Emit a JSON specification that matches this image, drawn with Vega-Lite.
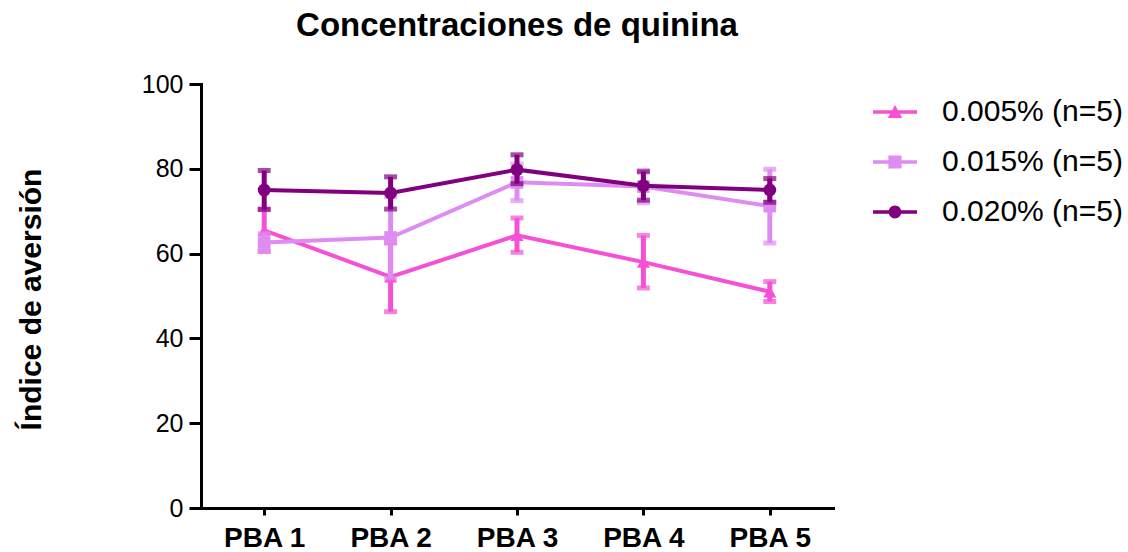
{
  "$schema": "https://vega.github.io/schema/vega-lite/v6.json",
  "autosize": "none",
  "width": 632,
  "height": 424,
  "padding": {"left": 201, "top": 84, "right": 295, "bottom": 44},
  "background": "white",
  "config": {
    "view": {"stroke": null},
    "font": "Liberation Sans",
    "range": {"category": ["#F550D6", "#DE8CF2", "#80007F"]},
    "axis": {"labelColor": "black", "titleColor": "black", "domainColor": "black", "tickColor": "black", "labelFont": "Liberation Sans", "titleFont": "Liberation Sans"}
  },
  "title": {
    "text": "Concentraciones de quinina",
    "font": "Liberation Sans",
    "fontSize": 33,
    "fontWeight": "bold",
    "color": "black",
    "anchor": "middle",
    "offset": 29
  },
  "data": {
    "values": [
      {"serie": "0.005% (n=5)", "prueba": "PBA 1", "media": 65.5, "lo": 60.5, "hi": 70.5},
      {"serie": "0.005% (n=5)", "prueba": "PBA 2", "media": 54.5, "lo": 46.3, "hi": 62.5},
      {"serie": "0.005% (n=5)", "prueba": "PBA 3", "media": 64.3, "lo": 60.3, "hi": 68.4},
      {"serie": "0.005% (n=5)", "prueba": "PBA 4", "media": 58.0, "lo": 51.9, "hi": 64.3},
      {"serie": "0.005% (n=5)", "prueba": "PBA 5", "media": 51.0, "lo": 48.7, "hi": 53.4},
      {"serie": "0.015% (n=5)", "prueba": "PBA 1", "media": 62.6, "lo": 60.5, "hi": 64.7},
      {"serie": "0.015% (n=5)", "prueba": "PBA 2", "media": 63.8, "lo": 54.2, "hi": 73.4},
      {"serie": "0.015% (n=5)", "prueba": "PBA 3", "media": 76.8, "lo": 72.5, "hi": 81.1},
      {"serie": "0.015% (n=5)", "prueba": "PBA 4", "media": 75.8, "lo": 72.0, "hi": 79.6},
      {"serie": "0.015% (n=5)", "prueba": "PBA 5", "media": 71.2, "lo": 62.5, "hi": 79.9},
      {"serie": "0.020% (n=5)", "prueba": "PBA 1", "media": 75.0, "lo": 70.4, "hi": 79.6},
      {"serie": "0.020% (n=5)", "prueba": "PBA 2", "media": 74.3, "lo": 70.5, "hi": 78.1},
      {"serie": "0.020% (n=5)", "prueba": "PBA 3", "media": 79.8, "lo": 76.5, "hi": 83.3},
      {"serie": "0.020% (n=5)", "prueba": "PBA 4", "media": 76.0, "lo": 72.6, "hi": 79.3},
      {"serie": "0.020% (n=5)", "prueba": "PBA 5", "media": 75.0, "lo": 72.1, "hi": 77.7}
    ]
  },
  "encoding": {
    "x": {
      "field": "prueba",
      "type": "nominal",
      "scale": {"type": "point", "padding": 0.5},
      "axis": {
        "title": null,
        "labelAngle": 0,
        "labelFontSize": 28,
        "labelFontWeight": "bold",
        "labelPadding": 9,
        "tickSize": 7,
        "tickWidth": 3,
        "domainWidth": 3,
        "domainCap": "square",
        "grid": false
      }
    },
    "color": {"field": "serie", "type": "nominal", "legend": null}
  },
  "layer": [
    {
      "transform": [{"filter": {"field": "serie", "equal": "0.005% (n=5)"}}],
      "layer": [
        {"mark": {"type": "rule", "strokeWidth": 5}, "encoding": {"y": {"field": "lo", "type": "quantitative"}, "y2": {"field": "hi"}}},
        {"mark": {"type": "tick", "thickness": 5, "size": 13}, "encoding": {"y": {"field": "lo", "type": "quantitative"}}},
        {"mark": {"type": "tick", "thickness": 5, "size": 13}, "encoding": {"y": {"field": "hi", "type": "quantitative"}}},
        {"mark": {"type": "line", "strokeWidth": 4}, "encoding": {"y": {"field": "media", "type": "quantitative"}}},
        {"mark": {"type": "point", "shape": "triangle-up", "filled": true, "opacity": 1, "size": 170}, "encoding": {"y": {"field": "media", "type": "quantitative"}}}
      ]
    },
    {
      "transform": [{"filter": {"field": "serie", "equal": "0.015% (n=5)"}}],
      "layer": [
        {"mark": {"type": "rule", "strokeWidth": 5}, "encoding": {"y": {"field": "lo", "type": "quantitative"}, "y2": {"field": "hi"}}},
        {"mark": {"type": "tick", "thickness": 5, "size": 13}, "encoding": {"y": {"field": "lo", "type": "quantitative"}}},
        {"mark": {"type": "tick", "thickness": 5, "size": 13}, "encoding": {"y": {"field": "hi", "type": "quantitative"}}},
        {"mark": {"type": "line", "strokeWidth": 4}, "encoding": {"y": {"field": "media", "type": "quantitative"}}},
        {"mark": {"type": "point", "shape": "square", "filled": true, "opacity": 1, "size": 160}, "encoding": {"y": {"field": "media", "type": "quantitative"}}}
      ]
    },
    {
      "transform": [{"filter": {"field": "serie", "equal": "0.020% (n=5)"}}],
      "layer": [
        {"mark": {"type": "rule", "strokeWidth": 5}, "encoding": {"y": {"field": "lo", "type": "quantitative"}, "y2": {"field": "hi"}}},
        {"mark": {"type": "tick", "thickness": 5, "size": 13}, "encoding": {"y": {"field": "lo", "type": "quantitative"}}},
        {"mark": {"type": "tick", "thickness": 5, "size": 13}, "encoding": {"y": {"field": "hi", "type": "quantitative"}}},
        {"mark": {"type": "line", "strokeWidth": 4}, "encoding": {"y": {"field": "media", "type": "quantitative"}}},
        {"mark": {"type": "point", "shape": "circle", "filled": true, "opacity": 1, "size": 165}, "encoding": {"y": {"field": "media", "type": "quantitative"}}}
      ]
    },
    {
      "mark": {"type": "point", "filled": true, "opacity": 0, "size": 1936},
      "encoding": {
        "y": {
          "field": "media",
          "type": "quantitative",
          "scale": {"domain": [0, 100], "nice": false},
          "axis": {
            "title": "Índice de aversión",
            "titleFontSize": 30,
            "titleFontWeight": "bold",
            "titleAngle": -90,
            "titleAlign": "center",
            "titleBaseline": "middle",
            "titleX": -170,
            "titleY": 215,
            "values": [0, 20, 40, 60, 80, 100],
            "labelFontSize": 25,
            "labelPadding": 6,
            "tickSize": 12,
            "tickWidth": 3,
            "domainWidth": 3,
            "domainCap": "square",
            "grid": false
          }
        },
        "shape": {
          "field": "serie",
          "type": "nominal",
          "scale": {
            "range": [
              "M-1,-0.077L1,-0.077L1,0.077L-1,0.077Z M0,-0.32L0.33,0.27L-0.33,0.27Z",
              "M-1,-0.077L1,-0.077L1,0.077L-1,0.077Z M-0.3,-0.3L0.3,-0.3L0.3,0.3L-0.3,0.3Z",
              "M-1,-0.077L1,-0.077L1,0.077L-1,0.077Z M-0.29,0A0.29,0.29 0 1,1 0.29,0A0.29,0.29 0 1,1 -0.29,0Z"
            ]
          },
          "legend": {
            "title": null,
            "orient": "none",
            "legendX": 672,
            "legendY": 6,
            "padding": 0,
            "symbolSize": 1936,
            "symbolOpacity": 1,
            "symbolFillColor": "#80007F",
            "symbolStrokeWidth": 0,
            "labelFont": "Liberation Sans",
            "labelFontSize": 30,
            "labelColor": "black",
            "labelOffset": 25,
            "labelLimit": 400,
            "rowPadding": 13,
            "encode": {
              "symbols": {
                "update": {
                  "fill": {"scale": "color", "field": "value"},
                  "opacity": {"value": 1}
                }
              }
            }
          }
        }
      }
    }
  ]
}
